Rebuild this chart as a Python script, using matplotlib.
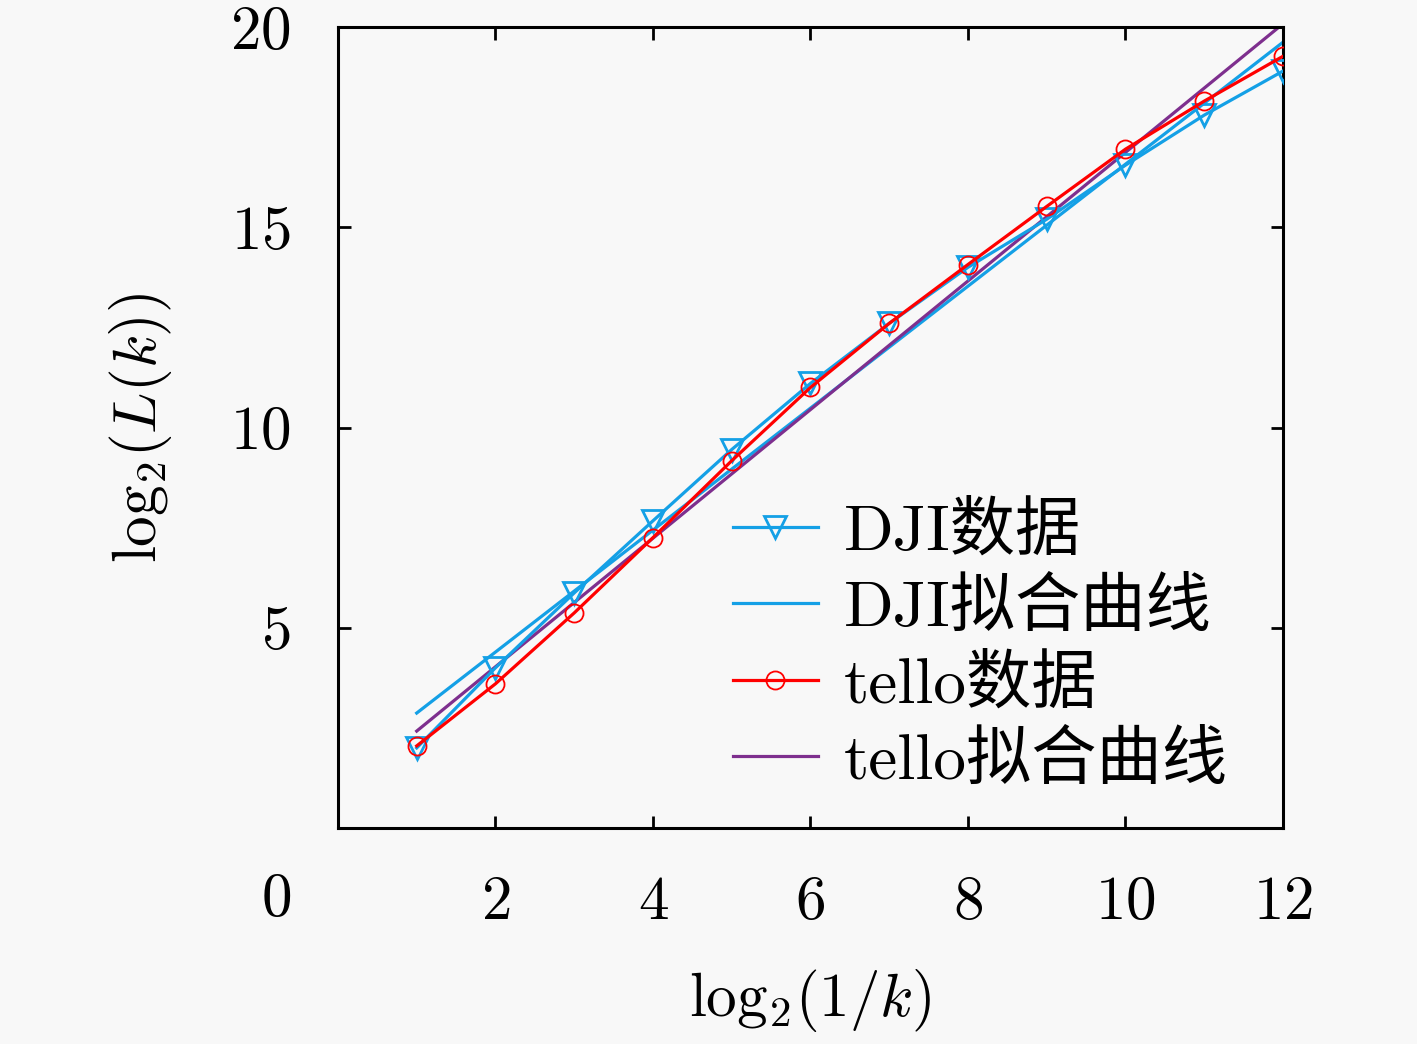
import numpy as np
import matplotlib
matplotlib.use("Agg")
import matplotlib.pyplot as plt

plt.rcParams['font.family'] = ['cmr10', 'Noto Sans CJK SC']
plt.rcParams['mathtext.fontset'] = 'cm'
plt.rcParams['axes.formatter.use_mathtext'] = True

# data
x_vals = [1, 2, 3, 4, 5, 6, 7, 8, 9, 10, 11, 12]
dji_data = [2.0, 4.0, 5.87, 7.67, 9.45, 11.1, 12.6, 14.0, 15.2, 16.55, 17.8, 18.9]
tello_data = [2.05, 3.6, 5.37, 7.25, 9.17, 11.0, 12.6, 14.07, 15.52, 16.95, 18.15, 19.27]
fit_x = [1, 12]
dji_fit = [2.87, 19.62]
tello_fit = [2.42, 20.08]

x_ticks = [2, 4, 6, 8, 10, 12]
y_ticks = [5, 10, 15, 20]

blue = '#14a0e6'
red = '#ff0000'
purple = '#7e2f8e'
bg = '#f8f8f8'

fig = plt.figure(figsize=(14.17, 10.44), dpi=100, facecolor=bg)
ax = fig.add_axes([0.2385, 0.2069, 0.6669, 0.7672])
ax.set_facecolor(bg)

ax.plot(x_vals, dji_data, color=blue, lw=2.3, marker='v', markersize=16,
        markerfacecolor='none', markeredgecolor=blue, markeredgewidth=2,
        label='DJI数据', zorder=3)
ax.plot(fit_x, dji_fit, color=blue, lw=2.3, label='DJI拟合曲线', zorder=2)
ax.plot(x_vals, tello_data, color=red, lw=2.3, marker='o', markersize=13,
        markerfacecolor='none', markeredgecolor=red, markeredgewidth=1.3,
        label='tello数据', zorder=4)
ax.plot(fit_x, tello_fit, color=purple, lw=2.3, label='tello拟合曲线', zorder=2)

ax.set_xlim(0, 12)
ax.set_ylim(0, 20)
ax.set_xticks(x_ticks)
ax.set_yticks(y_ticks)
ax.set_xticklabels([r'$%d$' % t for t in x_ticks])
ax.set_yticklabels([r'$%d$' % t for t in y_ticks])
ax.tick_params(direction='in', length=9, width=2, labelsize=44,
               top=True, right=True)
ax.tick_params(axis='x', pad=34)
ax.tick_params(axis='y', pad=34)
for s in ax.spines.values():
    s.set_linewidth(2.2)

# shared origin label
ax.text(-0.066, -0.09, r'$0$', transform=ax.transAxes, fontsize=44,
        ha='center', va='center')

ax.set_xlabel(r'$\mathrm{log}_2(1/k)$', fontsize=44, labelpad=26)
ax.set_ylabel(r'$\mathrm{log}_2(L(k))$', fontsize=44, labelpad=40)

ax.legend(loc='lower left', bbox_to_anchor=(0.418, 0.045), frameon=False,
          fontsize=47, handlelength=1.3, handletextpad=0.4,
          labelspacing=0.25, borderaxespad=0, borderpad=0)

fig.savefig('out.png', dpi=100, facecolor=bg)
